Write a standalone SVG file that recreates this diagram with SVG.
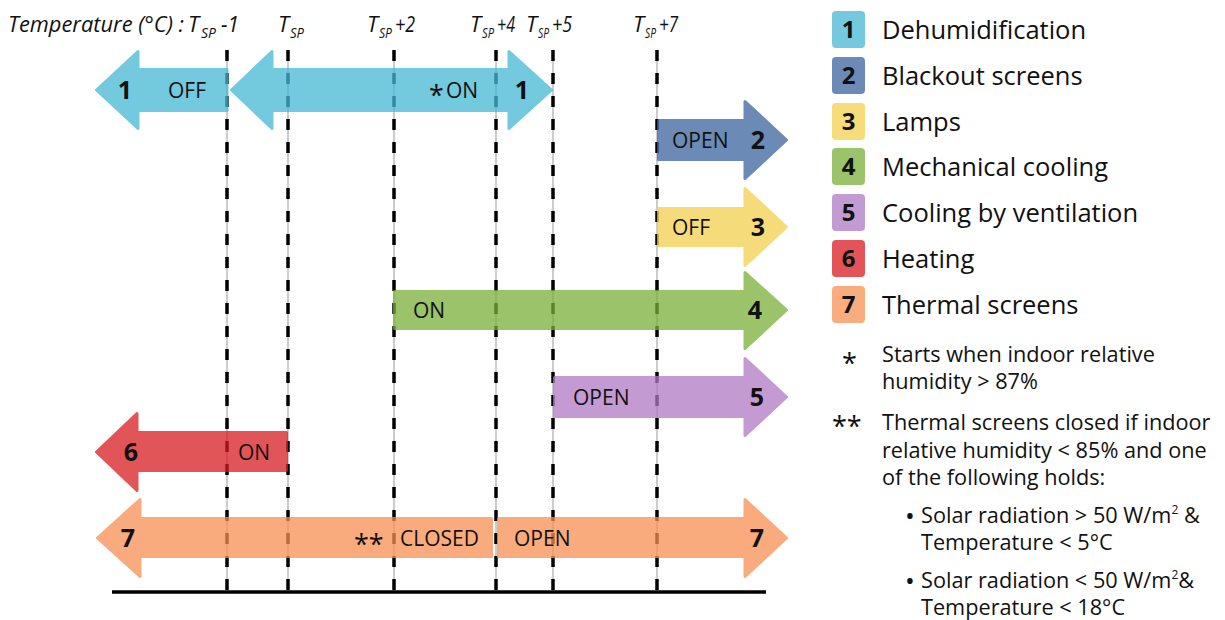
<svg xmlns="http://www.w3.org/2000/svg" width="1225" height="620" viewBox="0 0 1225 620">
<style>
text{font-family:"Open Sans","DejaVu Sans",sans-serif;fill:#111}
.ax{font-style:italic;font-size:22px}
.sub{font-style:italic;font-size:15px}
.lbl{font-size:21px}
.num{font-size:25px;font-weight:bold}
.lg{font-size:25.5px}
.lgn{font-size:24px;font-weight:bold;text-anchor:middle}
.note{font-size:21.7px}
.arr{opacity:0.75;stroke-width:3;stroke-linejoin:round}
.c1{fill:#45B7D4;stroke:#45B7D4}.c2{fill:#3A649E;stroke:#3A649E}.c3{fill:#F3D04E;stroke:#F3D04E}
.c4{fill:#7AB038;stroke:#7AB038}.c5{fill:#AF7AC4;stroke:#AF7AC4}.c6{fill:#D81B20;stroke:#D81B20}.c7{fill:#F79053;stroke:#F79053}
.thin{stroke:#999;stroke-width:1}
.dash{stroke:#000;stroke-width:3.5;stroke-dasharray:11 12}
</style>
<rect width="1225" height="620" fill="#fff"/>

<g id="axis-labels">
<text class="ax" x="8" y="32" textLength="176" lengthAdjust="spacingAndGlyphs">Temperature (°C) :</text>
<g id="tsp-m1"><text class="ax" x="188" y="32">T</text><text class="sub" x="201" y="38" textLength="15" lengthAdjust="spacingAndGlyphs">SP</text><text class="ax" x="221" y="32" textLength="18" lengthAdjust="spacingAndGlyphs">-1</text></g>
<g id="tsp-0"><text class="ax" x="278" y="32">T</text><text class="sub" x="290" y="38" textLength="14" lengthAdjust="spacingAndGlyphs">SP</text></g>
<g id="tsp-2"><text class="ax" x="367" y="32">T</text><text class="sub" x="379" y="38" textLength="13" lengthAdjust="spacingAndGlyphs">SP</text><text class="ax" x="395" y="32" textLength="20" lengthAdjust="spacingAndGlyphs">+2</text></g>
<g id="tsp-4"><text class="ax" x="470" y="32">T</text><text class="sub" x="482" y="38" textLength="12" lengthAdjust="spacingAndGlyphs">SP</text><text class="ax" x="497" y="32" textLength="18" lengthAdjust="spacingAndGlyphs">+4</text></g>
<g id="tsp-5"><text class="ax" x="526" y="32">T</text><text class="sub" x="538" y="38" textLength="11" lengthAdjust="spacingAndGlyphs">SP</text><text class="ax" x="552" y="32" textLength="20" lengthAdjust="spacingAndGlyphs">+5</text></g>
<g id="tsp-7"><text class="ax" x="633" y="32">T</text><text class="sub" x="645" y="38" textLength="11" lengthAdjust="spacingAndGlyphs">SP</text><text class="ax" x="659" y="32" textLength="19" lengthAdjust="spacingAndGlyphs">+7</text></g>
</g>

<g id="guides">
<line class="thin" x1="227" y1="50" x2="227" y2="591"/><line class="dash" x1="227" y1="50" x2="227" y2="591"/>
<line class="thin" x1="288" y1="50" x2="288" y2="591"/><line class="dash" x1="288" y1="50" x2="288" y2="591"/>
<line class="thin" x1="394" y1="50" x2="394" y2="591"/><line class="dash" x1="394" y1="50" x2="394" y2="591"/>
<line class="thin" x1="496" y1="50" x2="496" y2="591"/><line class="dash" x1="496" y1="50" x2="496" y2="591"/>
<line class="thin" x1="553" y1="50" x2="553" y2="591"/><line class="dash" x1="553" y1="50" x2="553" y2="591"/>
<line class="thin" x1="657" y1="50" x2="657" y2="591"/><line class="dash" x1="657" y1="50" x2="657" y2="591"/>
<line x1="112" y1="592" x2="766" y2="592" stroke="#000" stroke-width="3.5"/>
</g>

<g id="arrow-1-off">
<path class="arr c1" d="M227,69.5 H138 V51.5 L96.5,90 L138,128.5 V110.5 H227 Z"/>
<text class="num" x="125" y="99" text-anchor="middle">1</text>
<text class="lbl" x="168" y="97.5">OFF</text>
</g>
<g id="arrow-1-on">
<path class="arr c1" d="M272,69.5 H509 V51.5 L551.5,90 L509,128.5 V110.5 H272 V128.5 L231.5,90 L272,51.5 Z"/>
<text x="429" y="105" style="font-size:27px">*</text>
<text class="lbl" x="446" y="97.5">ON</text>
<text class="num" x="522" y="99" text-anchor="middle">1</text>
</g>
<g id="arrow-2">
<path class="arr c2" d="M658.5,120.5 H745 V101.5 L786.5,140 L745,178.5 V159.5 H658.5 Z"/>
<text class="lbl" x="672" y="147.5">OPEN</text>
<text class="num" x="758" y="149" text-anchor="middle">2</text>
</g>
<g id="arrow-3">
<path class="arr c3" d="M658.5,208.5 H745 V188.5 L786.5,227 L745,265.5 V245.5 H658.5 Z"/>
<text class="lbl" x="672" y="234.5">OFF</text>
<text class="num" x="758" y="236" text-anchor="middle">3</text>
</g>
<g id="arrow-4">
<path class="arr c4" d="M394.5,291.5 H745 V272.5 L786.5,310 L745,348.5 V328.5 H394.5 Z"/>
<text class="lbl" x="413" y="317.5">ON</text>
<text class="num" x="755" y="319" text-anchor="middle">4</text>
</g>
<g id="arrow-5">
<path class="arr c5" d="M554.5,377.5 H745 V358.5 L786.5,397 L745,435.5 V416.5 H554.5 Z"/>
<text class="lbl" x="573" y="404.5">OPEN</text>
<text class="num" x="757" y="406" text-anchor="middle">5</text>
</g>
<g id="arrow-6">
<path class="arr c6" d="M286.5,432.5 H137 V413.5 L96.5,452 L137,490.5 V470.5 H286.5 Z"/>
<text class="num" x="131" y="461" text-anchor="middle">6</text>
<text class="lbl" x="238" y="459.5">ON</text>
</g>
<g id="arrow-7-closed">
<path class="arr c7" d="M491.5,518.5 H140 V499.5 L97.5,538 L140,576.5 V556.5 H491.5 Z"/>
<text class="num" x="128" y="547" text-anchor="middle">7</text>
<text x="354" y="554" style="font-size:27px">**</text>
<text class="lbl" x="400" y="545.5">CLOSED</text>
</g>
<g id="arrow-7-open">
<path class="arr c7" d="M498.5,518.5 H745 V499.5 L786.5,538 L745,576.5 V556.5 H498.5 Z"/>
<text class="lbl" x="514" y="545.5">OPEN</text>
<text class="num" x="757" y="547" text-anchor="middle">7</text>
</g>

<g id="legend">
<g id="legend-1"><rect x="832" y="11" width="33" height="37" rx="4" fill="#74C9DF"/><text class="lgn" x="848.5" y="38">1</text><text class="lg" x="882" y="38.5">Dehumidification</text></g>
<g id="legend-2"><rect x="832" y="57" width="33" height="37" rx="4" fill="#6B8BB6"/><text class="lgn" x="848.5" y="84">2</text><text class="lg" x="882" y="84.5">Blackout screens</text></g>
<g id="legend-3"><rect x="832" y="103" width="33" height="37" rx="4" fill="#F6DC7A"/><text class="lgn" x="848.5" y="130">3</text><text class="lg" x="882" y="130.5">Lamps</text></g>
<g id="legend-4"><rect x="832" y="148" width="33" height="37" rx="4" fill="#9BC46A"/><text class="lgn" x="848.5" y="175">4</text><text class="lg" x="882" y="175.5">Mechanical cooling</text></g>
<g id="legend-5"><rect x="832" y="194" width="33" height="37" rx="4" fill="#C39BD3"/><text class="lgn" x="848.5" y="221">5</text><text class="lg" x="882" y="221.5">Cooling by ventilation</text></g>
<g id="legend-6"><rect x="832" y="240" width="33" height="37" rx="4" fill="#E25458"/><text class="lgn" x="848.5" y="267">6</text><text class="lg" x="882" y="267.5">Heating</text></g>
<g id="legend-7"><rect x="832" y="286" width="33" height="37" rx="4" fill="#F9AC7E"/><text class="lgn" x="848.5" y="313">7</text><text class="lg" x="882" y="313.5">Thermal screens</text></g>
</g>

<g id="notes">
<text x="842" y="373" style="font-size:27px">*</text>
<text class="note" x="882" y="362">Starts when indoor relative</text>
<text class="note" x="882" y="389">humidity &gt; 87%</text>
<text x="832" y="436" style="font-size:27px">**</text>
<text class="note" x="882" y="430">Thermal screens closed if indoor</text>
<text class="note" x="882" y="458">relative humidity &lt; 85% and one</text>
<text class="note" x="882" y="485">of the following holds:</text>
<text x="905" y="525" style="font-size:26px">•</text>
<text class="note" x="921" y="523">Solar radiation &gt; 50 W/m<tspan font-size="12" dy="-9">2</tspan><tspan dy="9">  &amp;</tspan></text>
<text class="note" x="921" y="550">Temperature &lt; 5°C</text>
<text x="905" y="590" style="font-size:26px">•</text>
<text class="note" x="921" y="588">Solar radiation &lt; 50 W/m<tspan font-size="12" dy="-9">2</tspan><tspan dy="9">&amp;</tspan></text>
<text class="note" x="921" y="615">Temperature &lt; 18°C</text>
</g>
</svg>
